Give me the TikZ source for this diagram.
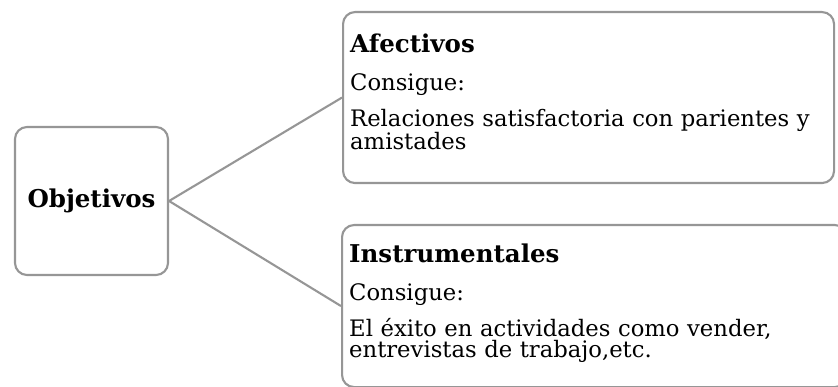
\documentclass[tikz,border=0pt]{standalone}
\usepackage{fontspec}
\setmainfont{DejaVu Serif}
\usetikzlibrary{positioning}
\definecolor{borde}{RGB}{150,150,150}

\begin{document}
\begin{tikzpicture}[x=1pt,y=-1pt,
    caja/.style={draw=borde, line width=2.1pt, rounded corners=12pt, fill=white,
      inner sep=0pt},
    texto/.style={inner sep=0pt, align=left, text width=470pt,
      font=\fontsize{22.7}{21.5}\selectfont},
    titulo/.style={font=\fontsize{24.5}{26}\selectfont\bfseries},
    enlace/.style={draw=borde, line width=2.1pt}]
  \useasboundingbox (0,0) rectangle (838,387);
  \clip (0,0) rectangle (838,387);
  % cajas
  \node[caja, minimum width=153pt, minimum height=148pt, titulo] (obj) at (91.5,201) {Objetivos};
  \node[caja, anchor=north west, minimum width=491pt, minimum height=171pt] (afe) at (342,11) {};
  \node[caja, anchor=north west, minimum width=505pt, minimum height=162pt] (ins) at (341,224) {};
  % textos
  \node[texto, anchor=north west] (afetxt) at (350,34)
    {{\fontsize{24.5}{26}\selectfont\bfseries Afectivos}\\[16.5pt]
     Consigue:\\[12.5pt]
     Relaciones satisfactoria con parientes y\\
     amistades};
  \node[texto, anchor=north west] (instxt) at (349,244)
    {{\fontsize{24.5}{26}\selectfont\bfseries Instrumentales}\\[16.5pt]
     Consigue:\\[11pt]
     El éxito en actividades como vender,\\
     entrevistas de trabajo,etc.};
  \draw[enlace] (obj.east) -- (afe.west);
  \draw[enlace] (obj.east) -- (ins.west);
\end{tikzpicture}
\end{document}
